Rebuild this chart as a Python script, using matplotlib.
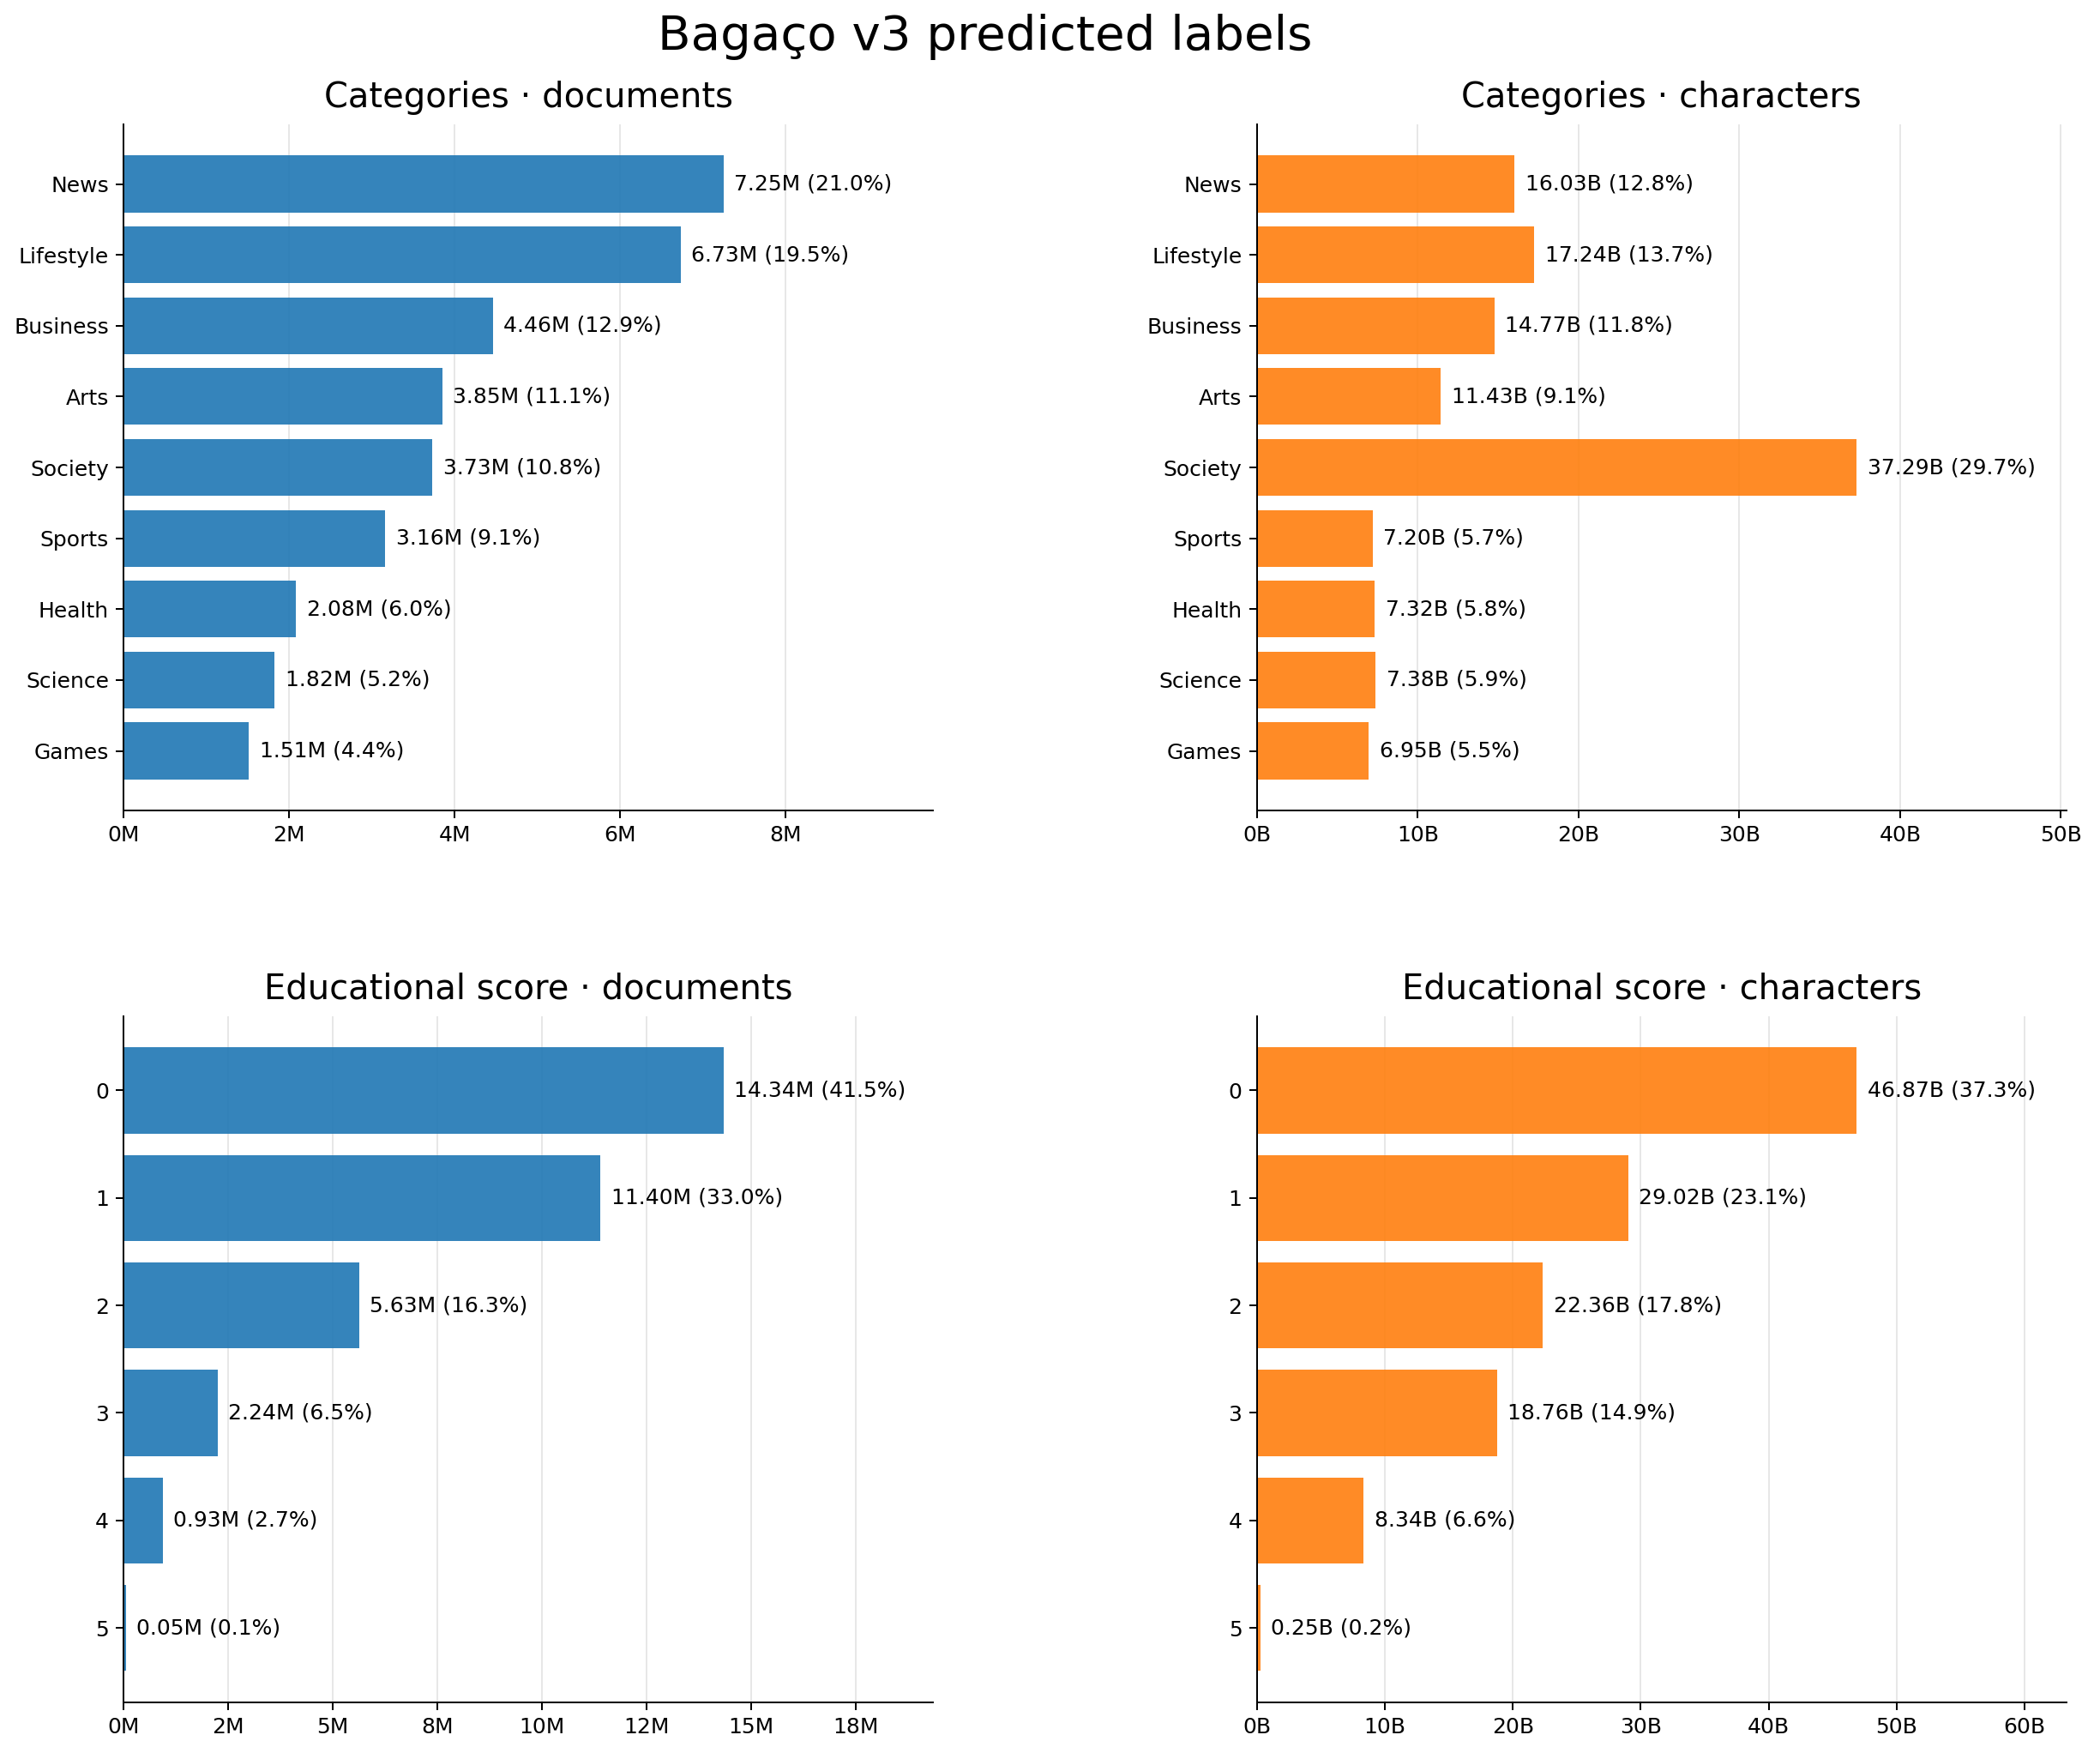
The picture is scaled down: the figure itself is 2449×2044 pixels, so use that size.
import matplotlib
matplotlib.use("Agg")
import matplotlib.pyplot as plt
from matplotlib.ticker import FuncFormatter

# Data
categories = ["News", "Lifestyle", "Business", "Arts", "Society", "Sports", "Health", "Science", "Games"]
cat_docs = [7.25, 6.73, 4.46, 3.85, 3.73, 3.16, 2.08, 1.82, 1.51]  # millions
cat_docs_pct = [21.0, 19.5, 12.9, 11.1, 10.8, 9.1, 6.0, 5.2, 4.4]
cat_chars = [16.03, 17.24, 14.77, 11.43, 37.29, 7.20, 7.32, 7.38, 6.95]  # billions
cat_chars_pct = [12.8, 13.7, 11.8, 9.1, 29.7, 5.7, 5.8, 5.9, 5.5]

edu_scores = ["0", "1", "2", "3", "4", "5"]
edu_docs = [14.34, 11.40, 5.63, 2.24, 0.93, 0.05]  # millions
edu_docs_pct = [41.5, 33.0, 16.3, 6.5, 2.7, 0.1]
edu_chars = [46.87, 29.02, 22.36, 18.76, 8.34, 0.25]  # billions
edu_chars_pct = [37.3, 23.1, 17.8, 14.9, 6.6, 0.2]


def draw(ax, labels, values, pcts, unit, color, title):
    ypos = range(len(labels))
    ax.barh(ypos, values, color=color, alpha=0.9)
    ax.set_yticks(list(ypos))
    ax.set_yticklabels(labels)
    ax.invert_yaxis()
    ax.set_xlim(0, max(values) * 1.35)
    ax.xaxis.set_major_formatter(FuncFormatter(lambda x, p: f"{x:.0f}{unit}"))
    for i, (v, p) in enumerate(zip(values, pcts)):
        ax.annotate(f"{v:.2f}{unit} ({p:.1f}%)", (v, i), xytext=(5, 0),
                    textcoords="offset points", va="center", fontsize=10)
    ax.set_title(title, fontsize=16, pad=8)
    ax.grid(axis="x", alpha=0.3)
    ax.set_axisbelow(True)
    ax.spines["top"].set_visible(False)
    ax.spines["right"].set_visible(False)
    ax.tick_params(labelsize=10)


fig, axes = plt.subplots(2, 2, figsize=(2449 / 180, 2044 / 180), dpi=180)
draw(axes[0, 0], categories, cat_docs, cat_docs_pct, "M", "tab:blue", "Categories · documents")
draw(axes[0, 1], categories, cat_chars, cat_chars_pct, "B", "tab:orange", "Categories · characters")
draw(axes[1, 0], edu_scores, edu_docs, edu_docs_pct, "M", "tab:blue", "Educational score · documents")
draw(axes[1, 1], edu_scores, edu_chars, edu_chars_pct, "B", "tab:orange", "Educational score · characters")

fig.suptitle("Bagaço v3 predicted labels", fontsize=22.5, x=0.469, y=0.992)
plt.subplots_adjust(left=0.059, right=0.984, top=0.929, bottom=0.029, wspace=0.40, hspace=0.30)
plt.savefig("out.png", dpi=180)
